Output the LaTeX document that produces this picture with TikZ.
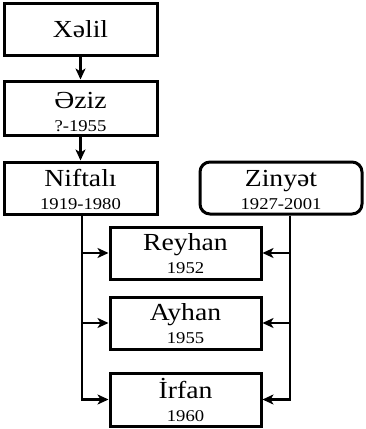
\documentclass[tikz,border=0pt]{standalone}
\usepackage{fontspec}
\setmainfont{Liberation Serif}[FakeStretch=1.13]
\usetikzlibrary{arrows.meta}

\newcommand{\nm}{\fontsize{24.5}{23}\selectfont}
\newcommand{\dt}{\fontsize{16.5}{23}\selectfont}
\newcommand{\up}[1]{\rule{0pt}{#1pt}}

\begin{document}
\begin{tikzpicture}[x=1pt,y=-1pt,
    person/.style={draw,line width=3pt,minimum width=153pt,minimum height=52pt,
      align=center,inner sep=0pt,font=\nm},
    kid/.style={person,minimum width=151pt},
    link/.style={line width=2.8pt,-{Stealth[length=11pt,width=10pt,inset=3pt]}}]
  \useasboundingbox (0,0) rectangle (366,429);
  % ancestors
  \node[person] (xelil) at (80.5,29) {Xəlil};
  \node[person,minimum height=54pt] (aziz) at (80.5,108) {\up{24}Əziz\\\dt ?-1955};
  \node[person] (niftali) at (80.5,188) {\up{21}Niftalı\\\dt 1919-1980};
  \node[person,minimum width=162pt,rounded corners=10pt] (zinyet) at (281,188)
    {\up{21}Zinyət\\\dt 1927-2001};
  % children
  \node[kid] (reyhan) at (185.5,253) {\up{18}Reyhan\\\dt 1952};
  \node[kid] (ayhan) at (185.5,323) {\up{18}Ayhan\\\dt 1955};
  \node[kid,minimum height=53pt] (irfan) at (185.5,399.5) {\up{18}İrfan\\\dt 1960};
  \draw[link] (xelil) -- (aziz);
  \draw[link] (aziz) -- (niftali);
  \foreach \c in {reyhan,ayhan,irfan} {
    \draw[link] ([xshift=1.5pt]niftali.south) |- (\c.west);
    \draw[link] ([xshift=9pt]zinyet.south) |- (\c.east);
  }
\end{tikzpicture}
\end{document}
